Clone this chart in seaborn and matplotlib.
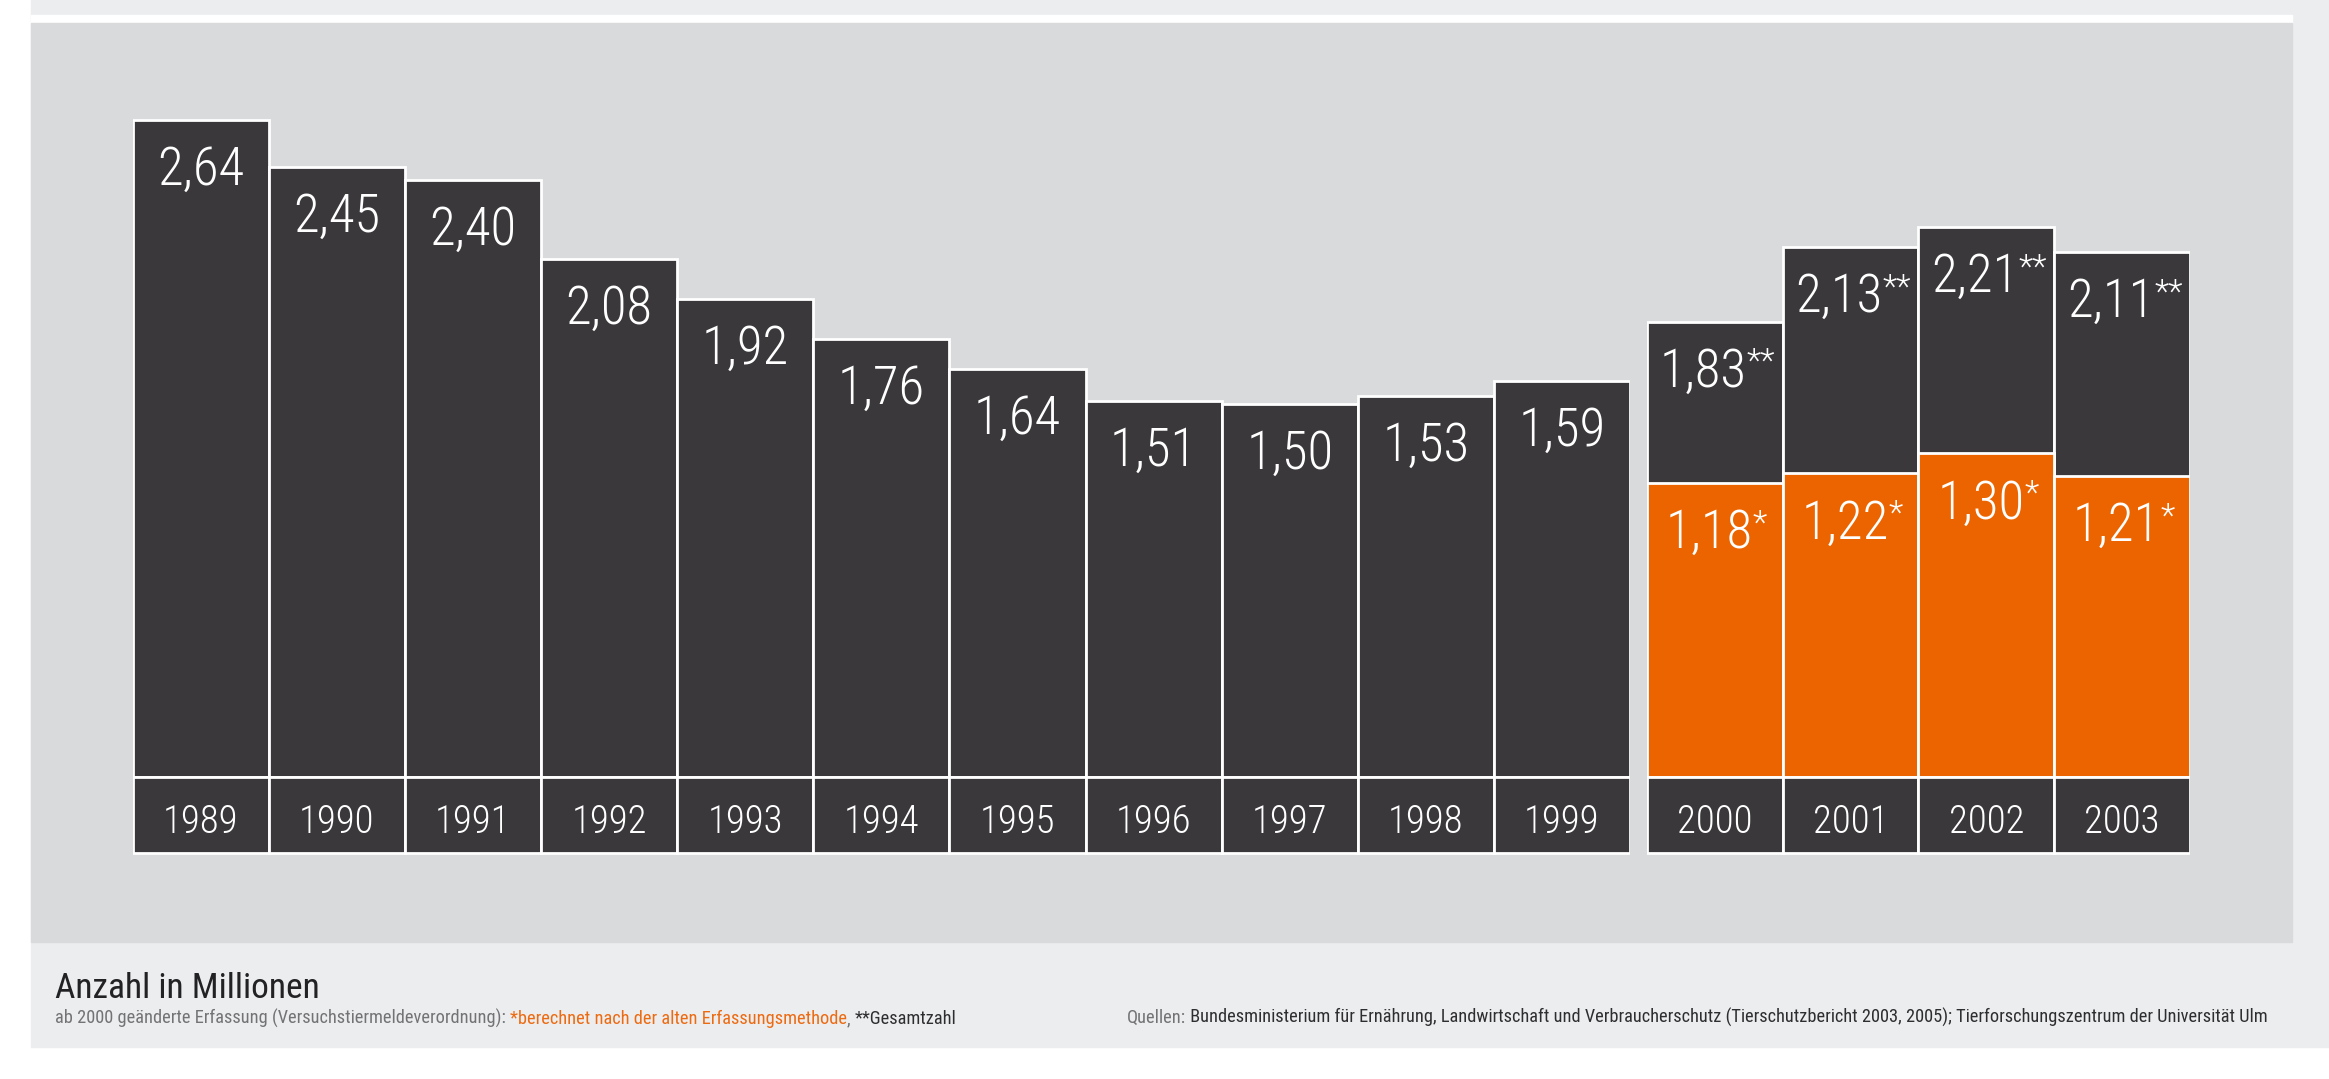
import os
import numpy as np
import matplotlib.pyplot as plt
from matplotlib.patches import Rectangle
from matplotlib import font_manager as fm
import seaborn as sns

# Daten (Anzahl Versuchstiere in Millionen)
years_before = ["1989", "1990", "1991", "1992", "1993", "1994", "1995",
                "1996", "1997", "1998", "1999"]
total_before = [2.64, 2.45, 2.40, 2.08, 1.92, 1.76, 1.64, 1.51, 1.50, 1.53, 1.59]

years_after = ["2000", "2001", "2002", "2003"]
total_after = [1.83, 2.13, 2.21, 2.11]        # ** Gesamtzahl
old_method_after = [1.18, 1.22, 1.30, 1.21]   # * alte Erfassungsmethode

title = "Anzahl in Millionen"
note_parts = [("ab 2000 geänderte Erfassung (Versuchstiermeldeverordnung): ", "gray"),
              ("*berechnet nach der alten Erfassungsmethode", "orange"),
              (", ", "gray"),
              ("**Gesamtzahl", "dark")]
source_parts = [("Quellen:", "gray"),
                (" Bundesministerium für Ernährung, Landwirtschaft und Verbraucherschutz "
                 "(Tierschutzbericht 2003, 2005); Tierforschungszentrum der Universität Ulm", "dark")]

DARK = "#3A383B"
ORANGE = "#EC6400"
PANEL = "#D9DADC"
FRAME = "#ECEDEF"
TEXT = {"gray": "#737375", "orange": "#EC6A10", "dark": "#2E2E30"}

sns.set_style("white")
plt.rcParams["font.family"] = ["DejaVu Sans"]


def find_font(prefs, fallback_bad):
    # look for a narrow / condensed face among the installed fonts
    files = [f.fname for f in fm.fontManager.ttflist]
    for p in prefs:
        for f in files:
            if p in os.path.basename(f).lower():
                return fm.FontProperties(fname=f)
    for f in files:
        b = os.path.basename(f).lower()
        if ("narrow" in b or "condensed" in b) and not any(x in b for x in fallback_bad):
            return fm.FontProperties(fname=f)
    return fm.FontProperties(family="DejaVu Sans", stretch="condensed")


BAD = ("bold", "italic", "oblique", "black", "semibold", "medium", "thin")
FP = find_font(["robotocondensed-light", "liberationsansnarrow-regular", "robotocondensed-regular",
                "opensans_condensed-light", "opensanscondensed-light", "notosans-condensedlight",
                "notosans-condensed.", "dejavusanscondensed."], BAD)
FP_REG = find_font(["robotocondensed-regular", "liberationsansnarrow-regular",
                    "notosans-condensed.", "robotocondensed-light", "dejavusanscondensed."], BAD)

W, H = 2329, 1079
fig = plt.figure(figsize=(W / 100, H / 100), dpi=100, facecolor="white")


def box(x0, y0, x1, y1, color):
    fig.patches.append(Rectangle((x0 / W, 1 - y1 / H), (x1 - x0) / W, (y1 - y0) / H,
                                 transform=fig.transFigure, color=color, zorder=-10))


box(31, 0, W, 1047, FRAME)
box(31, 15, 2292, 23, "white")
box(31, 23, 2292, 942, PANEL)

# pixel layout of the bar area
BASE, PX, TOP, BOTTOM = 777, 248.9, 23, 942
YEAR_BOX = 76 / PX
YEAR_BASELINE = -56 / PX
LABEL_DROP = 65 * 72 / 100   # points below bar top


def make_ax(x0, x1):
    ax = fig.add_axes([x0 / W, 1 - BOTTOM / H, (x1 - x0) / W, (BOTTOM - TOP) / H])
    ax.set_facecolor("none")
    return ax


def bars(ax, years, values, color):
    sns.barplot(x=years, y=values, color=color, saturation=1, width=1,
                edgecolor="white", linewidth=2, errorbar=None, ax=ax)


def fmt(v):
    return f"{v:.2f}".replace(".", ",")


def value_label(ax, i, top, v, stars=""):
    shift = {"": 0, "*": 4, "**": 8}[stars]
    t = ax.annotate(fmt(v), xy=(i, top), xytext=(-shift, -LABEL_DROP),
                    textcoords="offset points", ha="center", va="baseline",
                    color="white", fontproperties=FP, fontsize=38)
    if stars:
        ax.annotate(stars, xy=(1, 0.98), xycoords=t, ha="left", va="top",
                    color="white", fontproperties=FP, fontsize=24)


def year_labels(ax, years):
    bars(ax, years, [-YEAR_BOX] * len(years), DARK)
    for i, y in enumerate(years):
        ax.text(i, YEAR_BASELINE, y, ha="center", va="baseline", color="white",
                fontproperties=FP, fontsize=28)


def finish(ax, n):
    ax.set_xlim(-0.5, n - 0.5)
    ax.set_ylim(-(BOTTOM - BASE) / PX, (BASE - TOP) / PX)
    ax.axis("off")


ax1 = make_ax(132.7, 1630)
bars(ax1, years_before, total_before, DARK)
year_labels(ax1, years_before)
for i, v in enumerate(total_before):
    value_label(ax1, i, v, v)
finish(ax1, len(years_before))

ax2 = make_ax(1646.7, 2190)
bars(ax2, years_after, total_after, DARK)
bars(ax2, years_after, old_method_after, ORANGE)
year_labels(ax2, years_after)
for i, (t, o) in enumerate(zip(total_after, old_method_after)):
    value_label(ax2, i, t, t, "**")
    value_label(ax2, i, o, o, "*")
finish(ax2, len(years_after))

# Fußzeile
fig.text(55 / W, 1 - 998 / H, title, ha="left", va="baseline", color="#222224",
         fontproperties=FP_REG, fontsize=25.5)

FOOT = 13.2
prev = fig.text(55 / W, 1 - 1024 / H, note_parts[0][0], ha="left", va="baseline",
                color=TEXT[note_parts[0][1]], fontproperties=FP_REG, fontsize=FOOT)
for txt, c in note_parts[1:]:
    prev = ax1.annotate(txt, xy=(1, 0), xycoords=prev, ha="left", va="bottom",
                        color=TEXT[c], fontproperties=FP_REG, fontsize=FOOT,
                        annotation_clip=False)

prev = fig.text(2268 / W, 1 - 1023 / H, source_parts[1][0], ha="right", va="baseline",
                color=TEXT[source_parts[1][1]], fontproperties=FP_REG, fontsize=FOOT)
ax1.annotate(source_parts[0][0], xy=(0, 0), xycoords=prev, ha="right", va="bottom",
             color=TEXT[source_parts[0][1]], fontproperties=FP_REG, fontsize=FOOT,
             annotation_clip=False)

fig.savefig("out.png", dpi=100, facecolor="white")
